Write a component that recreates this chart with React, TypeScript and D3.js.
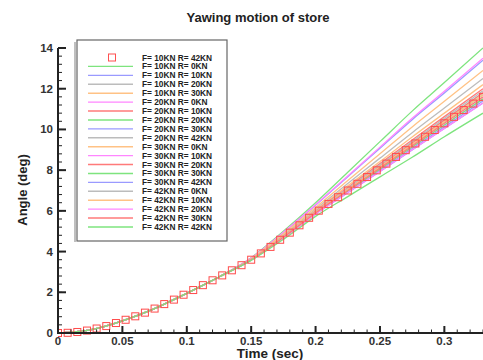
import React from "react";
import * as d3 from "d3";

// ---- data ----
const times = [0, 0.025, 0.05, 0.075, 0.1, 0.125, 0.15, 0.175, 0.2, 0.225, 0.25, 0.275, 0.3, 0.33];
const f10r0 = [0, 0.15, 0.6, 1.2, 1.95, 2.75, 3.7, 5.0, 6.4, 7.9, 9.4, 10.9, 12.3, 14.0];
const f10r10 = [0, 0.15, 0.6, 1.2, 1.95, 2.75, 3.67, 4.93, 6.28, 7.68, 9.07, 10.48, 11.79, 13.4];
const f10r20 = [0, 0.15, 0.6, 1.2, 1.95, 2.75, 3.64, 4.82, 6.09, 7.34, 8.59, 9.84, 11.05, 12.5];
const f10r30 = [0, 0.15, 0.6, 1.2, 1.95, 2.75, 3.62, 4.78, 6.03, 7.23, 8.42, 9.63, 10.8, 12.2];
const f20r0 = [0, 0.15, 0.6, 1.2, 1.95, 2.75, 3.68, 4.95, 6.3, 7.71, 9.13, 10.55, 11.88, 13.5];
const f20r10 = [0, 0.15, 0.6, 1.2, 1.95, 2.75, 3.62, 4.75, 5.98, 7.15, 8.32, 9.48, 10.63, 12.0];
const f20r20 = [0, 0.15, 0.6, 1.2, 1.95, 2.75, 3.6, 4.71, 5.92, 7.04, 8.15, 9.27, 10.38, 11.7];
const f20r30 = [0, 0.15, 0.6, 1.2, 1.95, 2.75, 3.59, 4.67, 5.86, 6.93, 7.99, 9.06, 10.13, 11.4];
const f20r42 = [0, 0.15, 0.6, 1.2, 1.95, 2.75, 3.61, 4.73, 5.94, 7.08, 8.21, 9.34, 10.47, 11.8];
const f30r0 = [0, 0.15, 0.6, 1.2, 1.95, 2.75, 3.65, 4.87, 6.17, 7.49, 8.8, 10.12, 11.38, 12.9];
const f30r10 = [0, 0.15, 0.6, 1.2, 1.95, 2.75, 3.6, 4.69, 5.88, 6.96, 8.05, 9.13, 10.22, 11.5];
const f30r20 = [0, 0.15, 0.6, 1.2, 1.95, 2.75, 3.6, 4.72, 5.93, 7.07, 8.2, 9.33, 10.45, 11.8];
const f30r30 = [0, 0.15, 0.6, 1.2, 1.95, 2.75, 3.59, 4.69, 5.88, 6.97, 8.05, 9.14, 10.22, 11.5];
const f30r42 = [0, 0.15, 0.6, 1.2, 1.95, 2.75, 3.59, 4.66, 5.84, 6.89, 7.94, 8.99, 10.05, 11.3];
const f42r0 = [0, 0.15, 0.6, 1.2, 1.95, 2.75, 3.61, 4.74, 5.96, 7.11, 8.26, 9.41, 10.55, 11.9];
const f42r10 = [0, 0.15, 0.6, 1.2, 1.95, 2.75, 3.6, 4.71, 5.92, 7.05, 8.16, 9.27, 10.38, 11.7];
const f42r20 = [0, 0.15, 0.6, 1.2, 1.95, 2.75, 3.58, 4.66, 5.84, 6.9, 7.94, 9.0, 10.05, 11.3];
const f42r30 = [0, 0.15, 0.6, 1.2, 1.95, 2.75, 3.6, 4.7, 5.9, 7.0, 8.1, 9.2, 10.3, 11.6];
const f42r42 = [0, 0.15, 0.6, 1.2, 1.95, 2.75, 3.57, 4.6, 5.73, 6.7, 7.67, 8.63, 9.64, 10.8];

// marker series F=10KN R=42KN (sampled every 0.0075 s)
const markerTimes = d3.range(0, 0.3301, 0.0075);
const f10r42 = [
  0, 0.01, 0.05, 0.12, 0.22, 0.34, 0.49, 0.65, 0.82, 1.0, 1.2, 1.42, 1.64, 1.88, 2.11,
  2.35, 2.59, 2.83, 3.08, 3.33, 3.6, 3.91, 4.23, 4.58, 4.93, 5.29, 5.66, 6.01, 6.34,
  6.67, 7.0, 7.33, 7.66, 7.99, 8.32, 8.65, 8.98, 9.31, 9.64, 9.97, 10.3, 10.62, 10.95,
  11.27, 11.6,
];

const lineLabels = [
  "F= 10KN R= 0KN", "F= 10KN R= 10KN", "F= 10KN R= 20KN", "F= 10KN R= 30KN",
  "F= 20KN R= 0KN", "F= 20KN R= 10KN", "F= 20KN R= 20KN", "F= 20KN R= 30KN", "F= 20KN R= 42KN",
  "F= 30KN R= 0KN", "F= 30KN R= 10KN", "F= 30KN R= 20KN", "F= 30KN R= 30KN", "F= 30KN R= 42KN",
  "F= 42KN R= 0KN", "F= 42KN R= 10KN", "F= 42KN R= 20KN", "F= 42KN R= 30KN", "F= 42KN R= 42KN",
];
const lineValues = [
  f10r0, f10r10, f10r20, f10r30,
  f20r0, f20r10, f20r20, f20r30, f20r42,
  f30r0, f30r10, f30r20, f30r30, f30r42,
  f42r0, f42r10, f42r20, f42r30, f42r42,
];
const markerLabel = "F= 10KN R= 42KN";
const palette = ["#7ee47e", "#9a9aff", "#bcbcbc", "#ffc285", "#ff86ff", "#ff7a7a"];

const xTickValues = [0, 0.05, 0.1, 0.15, 0.2, 0.25, 0.3];
const xTickLabels = ["0", "0.05", "0.1", "0.15", "0.2", "0.25", "0.3"];
const yTickValues = [0, 2, 4, 6, 8, 10, 12, 14];
const yTickLabels = ["0", "2", "4", "6", "8", "10", "12", "14"];

const W = 483;
const H = 360;
const FONT = "'Liberation Sans', Arial, Helvetica, sans-serif";

export default function App() {
  const x = d3.scaleLinear().domain([0, 0.33]).range([58, 483]);
  const y = d3.scaleLinear().domain([0, 14]).range([333, 48]);
  const line = d3
    .line<number>()
    .x((_, i) => x(times[i]))
    .y((v) => y(v))
    .curve(d3.curveMonotoneX);

  const xMinor = d3.range(0, 0.3301, 0.01);
  const yMinor = d3.range(0, 14.01, 0.4);

  const legendX = 77;
  const legendY = 40;
  const legendW = 150;
  const legendH = 201;
  const rowY0 = 57.5;
  const rowStep = 8.92;

  const axisColor = "#222";

  return (
    <svg
      width={W}
      height={H}
      style={{ position: "absolute", left: 0, top: 0, background: "#fff" }}
      fontFamily={FONT}
    >
      <rect x={0} y={0} width={W} height={H} fill="#fff" />
      <defs>
        <clipPath id="plotclip">
          <rect x={58} y={30} width={430} height={310} />
        </clipPath>
      </defs>

      {/* title */}
      <text x={258} y={22} textAnchor="middle" fontSize={13} fontWeight="bold" fill="#222">
        Yawing motion of store
      </text>

      {/* lines */}
      <g clipPath="url(#plotclip)">
        {lineValues.map((vals, i) => (
          <path
            key={i}
            d={line(vals) || ""}
            fill="none"
            stroke={palette[i % palette.length]}
            strokeWidth={1.3}
          />
        ))}
        {f10r42.map((v, i) => (
          <rect
            key={"m" + i}
            x={x(markerTimes[i]) - 3.5}
            y={y(v) - 3.5}
            width={7}
            height={7}
            fill="none"
            stroke="#ff4a4a"
            strokeWidth={1}
          />
        ))}
      </g>

      {/* axes */}
      <line x1={58} x2={58} y1={y(14)} y2={y(0) + 1} stroke={axisColor} strokeWidth={2} />
      <line x1={57} x2={483} y1={y(0)} y2={y(0)} stroke={axisColor} strokeWidth={2} />
      {xMinor.map((t, i) => (
        <line key={"xm" + i} x1={x(t)} x2={x(t)} y1={y(0)} y2={y(0) - 3.5} stroke={axisColor} strokeWidth={1} />
      ))}
      {xTickValues.map((t, i) => (
        <g key={"xt" + i}>
          <line x1={x(t)} x2={x(t)} y1={y(0)} y2={y(0) - 7} stroke={axisColor} strokeWidth={2} />
          <text x={x(t)} y={345} textAnchor="middle" fontSize={11.5} fontWeight="bold" fill="#333">
            {xTickLabels[i]}
          </text>
        </g>
      ))}
      {yMinor.map((v, i) => (
        <line key={"ym" + i} x1={58} x2={62} y1={y(v)} y2={y(v)} stroke={axisColor} strokeWidth={1} />
      ))}
      {yTickValues.map((v, i) => (
        <g key={"yt" + i}>
          <line x1={58} x2={66} y1={y(v)} y2={y(v)} stroke={axisColor} strokeWidth={2} />
          <text x={53} y={y(v) + 4} textAnchor="end" fontSize={11.5} fontWeight="bold" fill="#333">
            {yTickLabels[i]}
          </text>
        </g>
      ))}

      {/* axis titles */}
      <text x={270} y={357.5} textAnchor="middle" fontSize={13.5} fontWeight="bold" fill="#222">
        Time (sec)
      </text>
      <text
        transform={`translate(27,190) rotate(-90)`}
        textAnchor="middle"
        fontSize={13}
        fontWeight="bold"
        fill="#222"
      >
        Angle (deg)
      </text>

      {/* legend */}
      <line x1={legendX - 2} x2={legendX - 2} y1={legendY + 2} y2={legendY + legendH + 1} stroke="#aaa" strokeWidth={1.5} />
      <rect x={legendX} y={legendY} width={legendW} height={legendH} fill="#fff" stroke="#666" strokeWidth={1.2} />
      <rect x={112 - 3.5} y={rowY0 - 3.5} width={7} height={7} fill="none" stroke="#ff5050" strokeWidth={1} />
      <text x={142} y={rowY0 + 3} fontSize={8.3} fontWeight="bold" fill="#222">
        {markerLabel}
      </text>
      {lineLabels.map((lab, i) => {
        const ry = rowY0 + (i + 1) * rowStep;
        return (
          <g key={"lg" + i}>
            <line x1={88} x2={133} y1={ry} y2={ry} stroke={palette[i % palette.length]} strokeWidth={1.4} />
            <text x={142} y={ry + 3} fontSize={8.3} fontWeight="bold" fill="#222">
              {lab}
            </text>
          </g>
        );
      })}
    </svg>
  );
}
